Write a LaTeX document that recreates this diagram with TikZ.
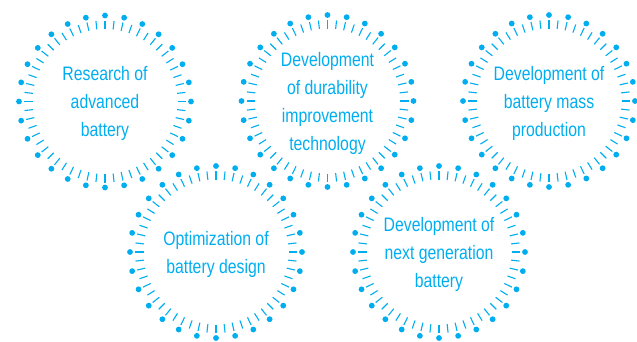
\documentclass[tikz,border=0pt]{standalone}
\usepackage{fontspec}
\setmainfont{Liberation Sans}[FakeStretch=0.81]
\definecolor{cy}{RGB}{0,174,239}
\begin{document}
\begin{tikzpicture}[x=1pt,y=-1pt,
  txt/.style={align=center,text=cy,inner sep=0pt,font=\fontsize{19.5}{28}\selectfont,yshift=-2pt},
  ringdot/.style={fill=cy},
  ringtick/.style={draw=cy,line width=1.1pt}]
\useasboundingbox (0,0) rectangle (637,341);
\coordinate (r1) at (105,101.5);
\coordinate (r2) at (327.5,101);
\coordinate (r3) at (549,101);
\coordinate (r4) at (216,252);
\coordinate (r5) at (439,252);
\node[txt] (c1) at (r1) {Research of\\advanced\\battery};
\node[txt] (c2) at (r2) {Development\\of durability\\improvement\\technology};
\node[txt] (c3) at (r3) {Development of\\battery mass\\production};
\node[txt] (c4) at (r4) {Optimization of\\battery design};
\node[txt] (c5) at (r5) {Development of\\next generation\\battery};
\foreach \n in {r1,r2,r3,r4,r5} {
  \foreach \k in {0,...,27}
    \fill[ringdot] (\n) ++({\k*12.857143}:86pt) circle[radius=2.9pt];
  \foreach \k in {0,...,55}
    \draw[ringtick] (\n) ++({\k*6.4285714}:72.5pt) -- ++({\k*6.4285714}:8.5pt);
}
\end{tikzpicture}
\end{document}
